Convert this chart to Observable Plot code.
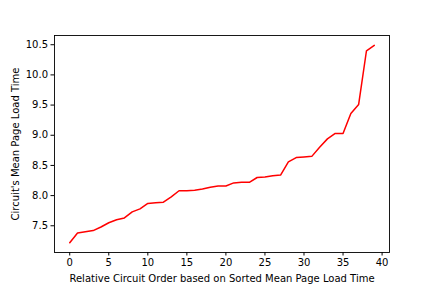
<!DOCTYPE html>
<html>
<head>
<meta charset="utf-8">
<script src="https://cdn.jsdelivr.net/npm/d3@7"></script>
<script src="https://cdn.jsdelivr.net/npm/@observablehq/plot@0.6"></script>
<style>
html, body { margin: 0; padding: 0; background: #fff; }
</style>
</head>
<body>
<div id="chart"></div>
<script>
const order = d3.range(40);
const loadTime = [
  7.22, 7.38, 7.40, 7.42, 7.48, 7.55, 7.60, 7.63, 7.73, 7.78,
  7.87, 7.88, 7.89, 7.98, 8.08, 8.08, 8.09, 8.11, 8.14, 8.16,
  8.16, 8.21, 8.22, 8.22, 8.30, 8.31, 8.33, 8.34, 8.56, 8.63,
  8.64, 8.65, 8.80, 8.94, 9.03, 9.03, 9.36, 9.51, 10.40, 10.49
];
const xTicks = [0, 5, 10, 15, 20, 25, 30, 35, 40];
const yTicks = [7.5, 8.0, 8.5, 9.0, 9.5, 10.0, 10.5];
const xLabel = "Relative Circuit Order based on Sorted Mean Page Load Time";
const yLabel = "Circuit's Mean Page Load Time";

const data = order.map((o, i) => ({order: o, time: loadTime[i]}));

const chart = Plot.plot({
  width: 432,
  height: 288,
  marginLeft: 54,
  marginRight: 43,
  marginTop: 35,
  marginBottom: 36,
  style: {fontFamily: "DejaVu Sans", fontSize: "10px", color: "#000", background: "#fff"},
  x: {domain: [-1.95, 40.95], ticks: xTicks, tickFormat: d => String(d), tickSize: 3.5, tickPadding: 3, label: xLabel, labelAnchor: "center", labelArrow: "none", labelOffset: 29},
  y: {domain: [7.057, 10.653], ticks: yTicks, tickFormat: d3.format(".1f"), tickSize: 3.5, tickPadding: 3, label: yLabel, labelAnchor: "center", labelArrow: "none", labelOffset: 43},
  marks: [
    Plot.line(data, {x: "order", y: "time", stroke: "#ff0000", strokeWidth: 1.5}),
    Plot.frame({stroke: "#000", strokeWidth: 0.9})
  ]
});
document.getElementById("chart").appendChild(chart);
</script>
</body>
</html>
